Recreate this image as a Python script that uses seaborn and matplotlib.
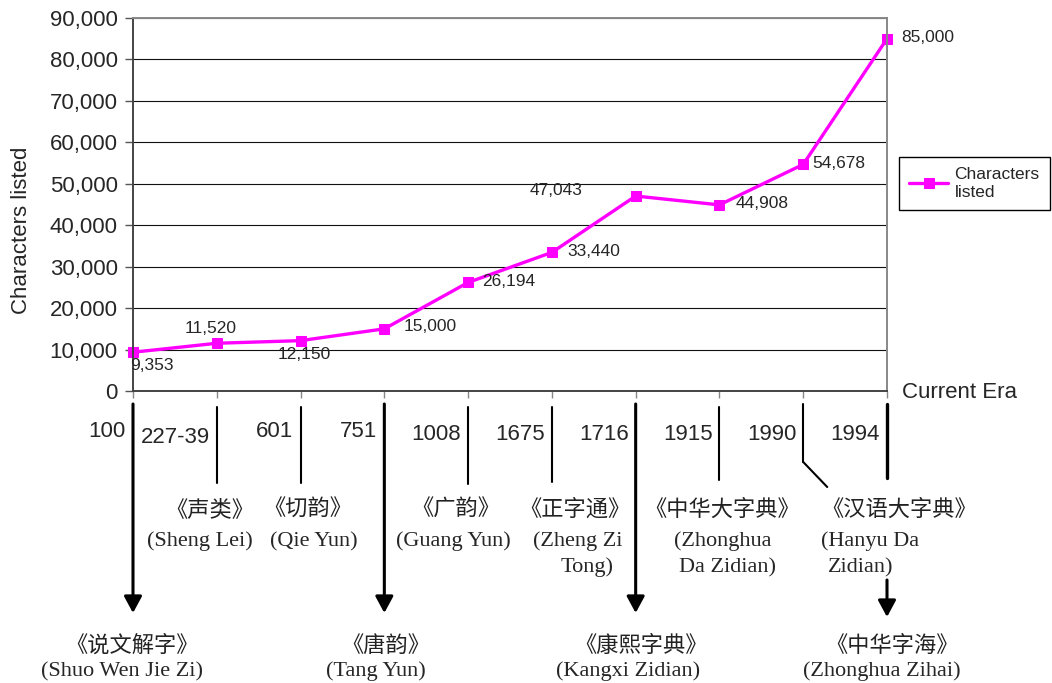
import matplotlib
matplotlib.use('Agg')
import numpy as np
import pandas as pd
import seaborn as sns
import matplotlib.pyplot as plt
from matplotlib import transforms
from matplotlib.lines import Line2D
from matplotlib.ticker import FuncFormatter

# data
years = ['100', '227-39', '601', '751', '1008', '1675', '1716', '1915', '1990', '1994']
chars = [9353, 11520, 12150, 15000, 26194, 33440, 47043, 44908, 54678, 85000]
books_cn = ['《说文解字》', '《声类》', '《切韵》', '《唐韵》', '《广韵》', '《正字通》',
            '《康熙字典》', '《中华大字典》', '《汉语大字典》', '《中华字海》']
books_en = ['(Shuo Wen Jie Zi)', '(Sheng Lei)', '(Qie Yun)', '(Tang Yun)', '(Guang Yun)',
            '(Zheng Zi\nTong)', '(Kangxi Zidian)', '(Zhonghua\nDa Zidian)', '(Hanyu Da\nZidian)',
            '(Zhonghua Zihai)']

# layout (pixels): value-label offsets, year baselines, book label offsets
val_off = [(19, 13, 'center'), (-6, -15, 'center'), (4, 14, 'center'), (19, -2, 'left'),
           (14, -1, 'left'), (15, -1, 'left'), (-53, -6, 'right'), (16, -1, 'left'),
           (9, -1, 'left'), (14, -1, 'left')]
year_base = [437, 443, 437, 437, 440, 440, 440, 440, 440, 440]
bottom_row = [0, 3, 6, 9]  # books with an arrow down to the bottom row
cn_dx = [-1, -7, 7, 1, -12, 23, 5, 3, 96, 5]
en_dx = [[-11], [-17], [13], [-8], [-15], [26, 35], [-8], [3, 8], [18, 25], [-5]]
en_ha = ['center'] * 8 + ['left', 'center']

W, H = 1052, 683
sns.set_style('white')
plt.rcParams['font.family'] = ['Liberation Sans', 'DejaVu Sans']

fig = plt.figure(figsize=(W / 100, H / 100), dpi=100)
ax = fig.add_axes([133 / W, 1 - 391 / H, 754 / W, 373 / H])

df = pd.DataFrame({'pos': np.arange(len(chars)), 'chars': chars})
sns.lineplot(data=df, x='pos', y='chars', ax=ax, color='#FF00FF', lw=2.4, marker='s',
             markersize=7, markeredgecolor='#FF00FF', label='Characters\nlisted', clip_on=False)

ax.set_xlim(0, 9)
ax.set_ylim(0, 90000)
ax.set_yticks(range(0, 90001, 10000))
ax.yaxis.set_major_formatter(FuncFormatter(lambda v, p: f'{int(v):,}'))
ax.set_xticks(range(len(chars)))
ax.set_xticklabels([])
ax.set_xlabel('')
ax.set_ylabel('')
ax.set_axisbelow(True)
ax.grid(axis='y', color='#111111', lw=0.8)
ax.tick_params(axis='y', left=True, length=6, width=1, color='#555555', labelsize=16, pad=5)
ax.tick_params(axis='x', bottom=True, length=5, width=1, color='#888888', direction='out')
for s in ['left', 'bottom']:
    ax.spines[s].set_color('#444444')
    ax.spines[s].set_linewidth(1.4)
for s in ['right', 'top']:
    ax.spines[s].set_color('#888888')
    ax.spines[s].set_linewidth(1.4)

fig.text(22 / W, 1 - 230 / H, 'Characters listed', rotation=90, ha='center', va='center', fontsize=16)

# value labels
for i, v in enumerate(chars):
    dx, dy, ha = val_off[i]
    ax.annotate(f'{v:,}', xy=(i, v), xytext=(dx * 0.72, -dy * 0.72), textcoords='offset points',
                ha=ha, va='center', fontsize=12.5)

leg = ax.legend(loc='center left', bbox_to_anchor=(899 / W, 1 - 183.5 / H), bbox_transform=fig.transFigure,
                frameon=True, fancybox=False, edgecolor='black', fontsize=12.5, handlelength=2.2,
                handletextpad=0.4, borderpad=0.6, borderaxespad=0, framealpha=1)
leg.get_frame().set_linewidth(1)

fig.text(902 / W, 1 - 398 / H, 'Current Era', ha='left', va='baseline', fontsize=16)

# timeline below the axis
blend = transforms.blended_transform_factory(ax.transData, fig.transFigure)
fy = lambda py: 1 - py / H
unit = 754 / 9


def vline(x, y0, y1, lw):
    ax.add_artist(Line2D([x, x], [fy(y0), fy(y1)], transform=blend, color='black', lw=lw, clip_on=False))


def arrow(x, y0, y1):
    ax.annotate('', xy=(x, fy(y1)), xycoords=blend, xytext=(x, fy(y0)), textcoords=blend,
                arrowprops=dict(arrowstyle='-|>,head_length=0.5,head_width=0.27', lw=2.2,
                                color='black', shrinkA=0, shrinkB=0, mutation_scale=20))


thin_end = {1: 483, 2: 483, 4: 484, 5: 482, 7: 480}
for i in range(len(years)):
    ax.annotate(years[i], xy=(i, fy(year_base[i])), xycoords=blend, xytext=(-7 * 0.72, 0),
                textcoords='offset points', ha='right', va='baseline', fontsize=16)
    if i in (0, 3, 6):
        arrow(i, 404, 613)
    elif i == 9:
        vline(i, 404, 478, 2.4)
        arrow(i, 580, 617)
    elif i == 8:
        vline(i, 404, 462, 1.5)
        ax.add_artist(Line2D([i, i + 24 / unit], [fy(462), fy(487)], transform=blend,
                             color='black', lw=1.5, clip_on=False))
    else:
        vline(i, 407, thin_end[i], 1.5)

    cn_y, en_y = (652, 676) if i in bottom_row else (516, 546)
    ax.annotate(books_cn[i], xy=(i, fy(cn_y)), xycoords=blend, xytext=(cn_dx[i] * 0.72, 0),
                textcoords='offset points', ha='center', va='baseline', fontsize=16,
                family=['Noto Sans CJK SC', 'DejaVu Sans'], color='#222222')
    for k, line in enumerate(books_en[i].split('\n')):
        ax.annotate(line, xy=(i, fy(en_y + 26 * k)), xycoords=blend, xytext=(en_dx[i][k] * 0.72, 0),
                    textcoords='offset points', ha=en_ha[i], va='baseline', fontsize=16,
                    family=['Liberation Serif'])

fig.savefig('out.png', dpi=100)
